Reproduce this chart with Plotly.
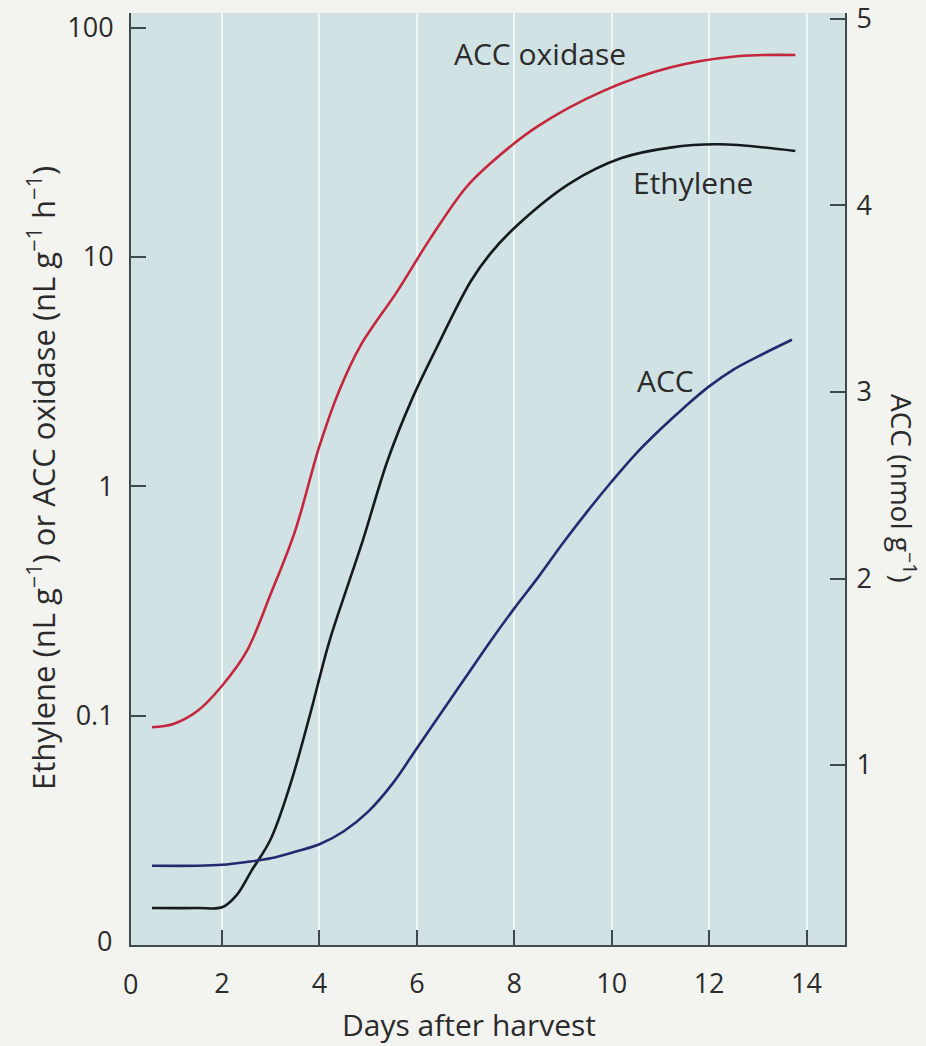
import numpy as np
import plotly.graph_objects as go

# ---- data ----
oxidase_days = [0.56, 1.0, 1.5, 2.0, 2.5, 3.0, 3.5, 4.0, 4.4, 4.84, 5.6, 6.27, 7.0, 7.5, 8.47, 9.83, 11.2, 12.58, 13.77]
oxidase_vals = [0.089, 0.092, 0.105, 0.135, 0.19, 0.34, 0.64, 1.5, 2.6, 4.1, 7.1, 12.0, 20.0, 25.5, 37.0, 53.0, 67.0, 75.0, 76.0]

ethylene_days = [0.56, 1.5, 2.0, 2.3, 2.6, 3.0, 3.4, 3.8, 4.2, 4.6, 4.9, 5.4, 5.9, 6.4, 7.1, 7.5, 8.1, 9.15, 10.2, 11.2, 12.2, 13.77]
ethylene_vals = [0.0145, 0.0145, 0.0146, 0.0165, 0.021, 0.029, 0.05, 0.10, 0.21, 0.38, 0.59, 1.3, 2.4, 4.0, 7.8, 10.3, 14.0, 21.0, 27.0, 30.0, 31.0, 29.0]

acc_days = [0.56, 1.5, 2.0, 2.5, 3.0, 3.5, 4.0, 4.5, 5.0, 5.5, 6.0, 6.5, 7.0, 7.5, 8.0, 8.5, 9.0, 9.5, 10.0, 10.5, 11.0, 11.5, 12.0, 12.5, 13.0, 13.7]
acc_vals = [0.46, 0.46, 0.465, 0.48, 0.50, 0.535, 0.575, 0.645, 0.75, 0.90, 1.09, 1.28, 1.47, 1.66, 1.84, 2.01, 2.19, 2.36, 2.52, 2.67, 2.80, 2.92, 3.03, 3.12, 3.19, 3.28]

x_ticks = [2, 4, 6, 8, 10, 12, 14]
left_ticks = [0.1, 1, 10, 100]
left_ticktext = ["0.1", "1", "10", "100"]
right_ticks = [1, 2, 3, 4, 5]

FONT = "Open Sans"
TXT = "#2b2b2b"
AXC = "#3d4a4c"
TICK_SIZE = 27
LABEL_SIZE = 30

# plot-area geometry in pixels (used only to place text labels)
L, R, T, B = 131, 845, 13, 945

fig = go.Figure()
fig.add_trace(go.Scatter(x=oxidase_days, y=oxidase_vals, mode="lines",
                         line=dict(color="#c4263c", width=2.6, shape="spline", smoothing=1.0),
                         showlegend=False, hoverinfo="skip"))
fig.add_trace(go.Scatter(x=ethylene_days, y=ethylene_vals, mode="lines",
                         line=dict(color="#151a1c", width=2.6, shape="spline", smoothing=1.0),
                         showlegend=False, hoverinfo="skip"))
fig.add_trace(go.Scatter(x=acc_days, y=acc_vals, mode="lines", yaxis="y2",
                         line=dict(color="#252a70", width=2.6, shape="spline", smoothing=1.0),
                         showlegend=False, hoverinfo="skip"))

fig.update_layout(
    width=926, height=1046,
    margin=dict(l=L, r=926 - R, t=T, b=1046 - B, autoexpand=False),
    paper_bgcolor="#f3f3f0",
    plot_bgcolor="#d0e2e4",
    font=dict(family=FONT, size=TICK_SIZE, color=TXT),
    xaxis=dict(range=[0.13, 14.79], tickvals=x_ticks, ticks="inside", ticklen=15,
               tickwidth=2, tickcolor=AXC, showline=True, linecolor=AXC, linewidth=2,
               showgrid=True, gridcolor="#eef5f5", gridwidth=2, zeroline=False,
               automargin=False, ticklabeloverflow="allow",
               ticklabelstandoff=14, tickfont=dict(size=TICK_SIZE, color=TXT)),
    yaxis=dict(type="log", range=[-2.0, 2.064], tickvals=left_ticks, ticktext=left_ticktext,
               ticks="inside", ticklen=15, tickwidth=2, tickcolor=AXC,
               showline=True, linecolor=AXC, linewidth=2, showgrid=False, zeroline=False,
               automargin=False, ticklabeloverflow="allow",
               ticklabelstandoff=10, tickfont=dict(size=TICK_SIZE, color=TXT)),
    yaxis2=dict(overlaying="y", side="right", range=[0.035, 5.032], tickvals=right_ticks,
                ticks="inside", ticklen=15, tickwidth=2, tickcolor=AXC,
                showline=True, linecolor=AXC, linewidth=2, showgrid=False, zeroline=False,
                automargin=False, ticklabeloverflow="allow",
                ticklabelstandoff=4, tickfont=dict(size=TICK_SIZE, color=TXT)),
)


def px_x(p):
    return (p - L) / (R - L)


def px_y(p):
    return (B - p) / (B - T)


def day_of(p):
    return (p - 124.5) / 48.7


# zero labels
fig.add_annotation(x=0, xref="paper", y=np.log10(0.0105), yref="y", text="0", showarrow=False,
                   xanchor="right", yanchor="middle", xshift=-17,
                   font=dict(size=TICK_SIZE, color=TXT))
fig.add_annotation(x=px_x(130), xref="paper", y=px_y(984), yref="paper", text="0", showarrow=False,
                   xanchor="center", yanchor="middle", font=dict(size=TICK_SIZE, color=TXT))
# curve labels
fig.add_annotation(x=day_of(540), y=np.log10(77), text="ACC oxidase", showarrow=False,
                   xanchor="center", yanchor="middle", font=dict(size=LABEL_SIZE, color=TXT))
fig.add_annotation(x=day_of(693), y=np.log10(21.2), text="Ethylene", showarrow=False,
                   xanchor="center", yanchor="middle", font=dict(size=LABEL_SIZE, color=TXT))
fig.add_annotation(x=day_of(665), y=3.064, yref="y2", text="ACC", showarrow=False,
                   xanchor="center", yanchor="middle", font=dict(size=LABEL_SIZE, color=TXT))
# axis titles
fig.add_annotation(x=px_x(469), xref="paper", y=px_y(1024), yref="paper", text="Days after harvest",
                   showarrow=False, xanchor="center", yanchor="middle",
                   font=dict(size=LABEL_SIZE, color=TXT))
fig.add_annotation(x=px_x(41), xref="paper", y=px_y(478), yref="paper",
                   text="Ethylene (nL g<sup>−1</sup>) or ACC oxidase (nL g<sup>−1</sup> h<sup>−1</sup>)",
                   textangle=-90, showarrow=False, xanchor="center", yanchor="middle",
                   font=dict(size=LABEL_SIZE + 1, color=TXT))
fig.add_annotation(x=px_x(904), xref="paper", y=px_y(488), yref="paper",
                   text="ACC (nmol g<sup>−1</sup>)", textangle=90, showarrow=False,
                   xanchor="center", yanchor="middle",
                   font=dict(size=LABEL_SIZE - 2, color=TXT))

fig.write_html("out.html", post_script="document.body.style.margin='0px';",
               config={"displayModeBar": False})
